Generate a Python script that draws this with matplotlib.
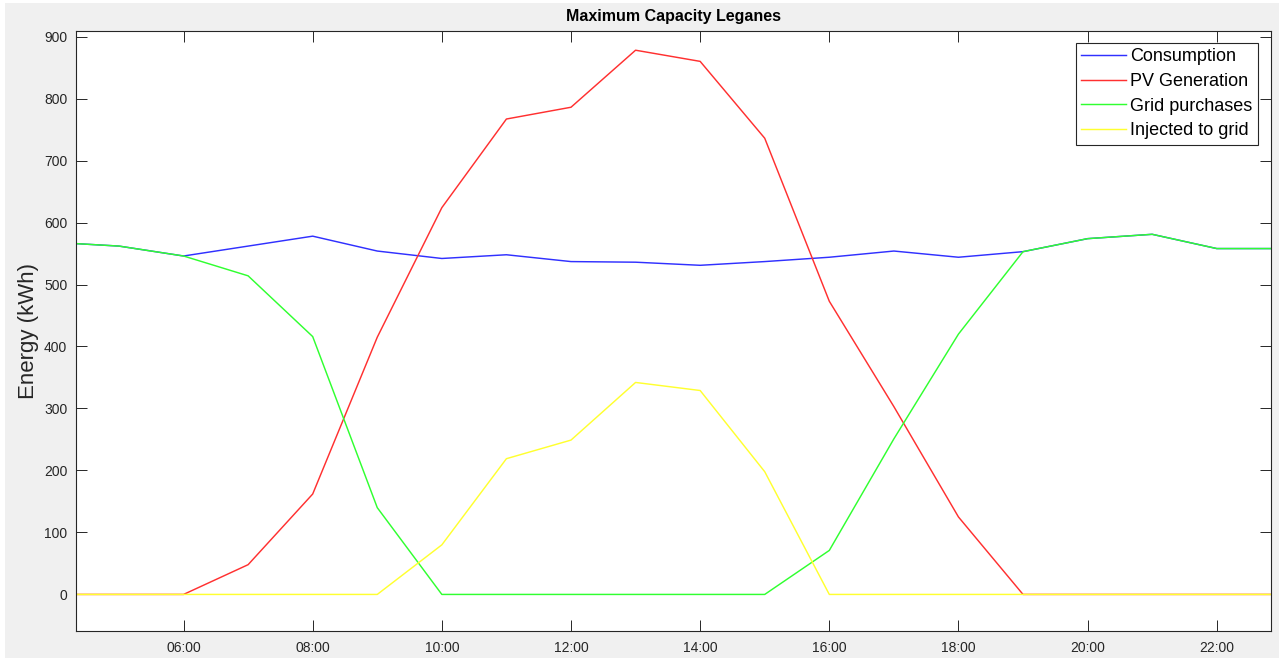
import matplotlib
matplotlib.use("Agg")
import matplotlib.pyplot as plt
from matplotlib.patches import Rectangle

# Hourly energy balance (kWh)
hours = [4, 5, 6, 7, 8, 9, 10, 11, 12, 13, 14, 15, 16, 17, 18, 19, 20, 21, 22, 23]
consumption = [568, 562, 546, 562, 578, 554, 542, 548, 537, 536, 531, 537, 544, 554, 544, 553, 574, 581, 558, 558]
pv_generation = [0, 0, 0, 48, 162, 415, 624, 767, 786, 878, 860, 736, 473, 303, 125, 0, 0, 0, 0, 0]
grid_purchases = [568, 562, 546, 514, 416, 140, 0, 0, 0, 0, 0, 0, 71, 251, 420, 553, 574, 581, 558, 558]
injected = [0, 0, 0, 0, 0, 0, 80, 219, 249, 342, 329, 198, 0, 0, 0, 0, 0, 0, 0, 0]

series_labels = ["Consumption", "PV Generation", "Grid purchases", "Injected to grid"]
series_colors = ["#3030ff", "#ff3030", "#30ff30", "#ffff30"]

tick_hours = [6, 8, 10, 12, 14, 16, 18, 20, 22]
tick_labels = ["06:00", "08:00", "10:00", "12:00", "14:00", "16:00", "18:00", "20:00", "22:00"]
ytick_values = [0, 100, 200, 300, 400, 500, 600, 700, 800, 900]

plt.rcParams["font.family"] = ["Liberation Sans", "DejaVu Sans"]

W, H = 1279, 658
fig = plt.figure(figsize=(W / 100, H / 100), dpi=100, facecolor="white")
# grey window background with a thin white margin at the top and left
fig.patches.append(Rectangle((5 / W, 0), 1, 1 - 3 / H, transform=fig.transFigure,
                             facecolor="#f0f0f0", edgecolor="none", zorder=-10))

left, right, top, bottom = 75.7, 1271, 31, 631
ax = fig.add_axes([left / W, 1 - bottom / H, (right - left) / W, (bottom - top) / H])
ax.set_facecolor("white")

for vals, lab, col in zip([consumption, pv_generation, grid_purchases, injected],
                          series_labels, series_colors):
    ax.plot(hours, vals, color=col, lw=1.05, label=lab)

ax.set_xlim(4.33, 22.84)
ax.set_ylim(-59, 909)
ax.set_xticks(tick_hours)
ax.set_xticklabels(tick_labels)
ax.set_yticks(ytick_values)

axis_col = "#262626"
for sp in ax.spines.values():
    sp.set_color(axis_col)
    sp.set_linewidth(0.8)
ax.tick_params(direction="in", length=8, width=0.7, color=axis_col,
               labelcolor=axis_col, labelsize=10, top=True, right=True)
ax.tick_params(axis="y", pad=6)
ax.tick_params(axis="x", pad=7)

ax.set_ylabel("Energy (kWh)", fontsize=16, color=axis_col)
ax.yaxis.set_label_coords(-0.031, 0.5)

fig.text((left + right) / 2 / W, 1 - 16.5 / H, "Maximum Capacity Leganes",
         ha="center", va="center", fontsize=11.5, fontweight="bold", color="black")

leg = ax.legend(loc="upper right", bbox_to_anchor=(0.989, 0.98), borderaxespad=0,
                fontsize=13, frameon=True, fancybox=False, framealpha=1,
                edgecolor=axis_col, handlelength=2.45, handletextpad=0.25,
                labelspacing=0.42, borderpad=0.3)
leg.get_frame().set_linewidth(0.8)
for line in leg.get_lines():
    line.set_linewidth(1.05)

fig.savefig("out.png", dpi=100, facecolor=fig.get_facecolor())
